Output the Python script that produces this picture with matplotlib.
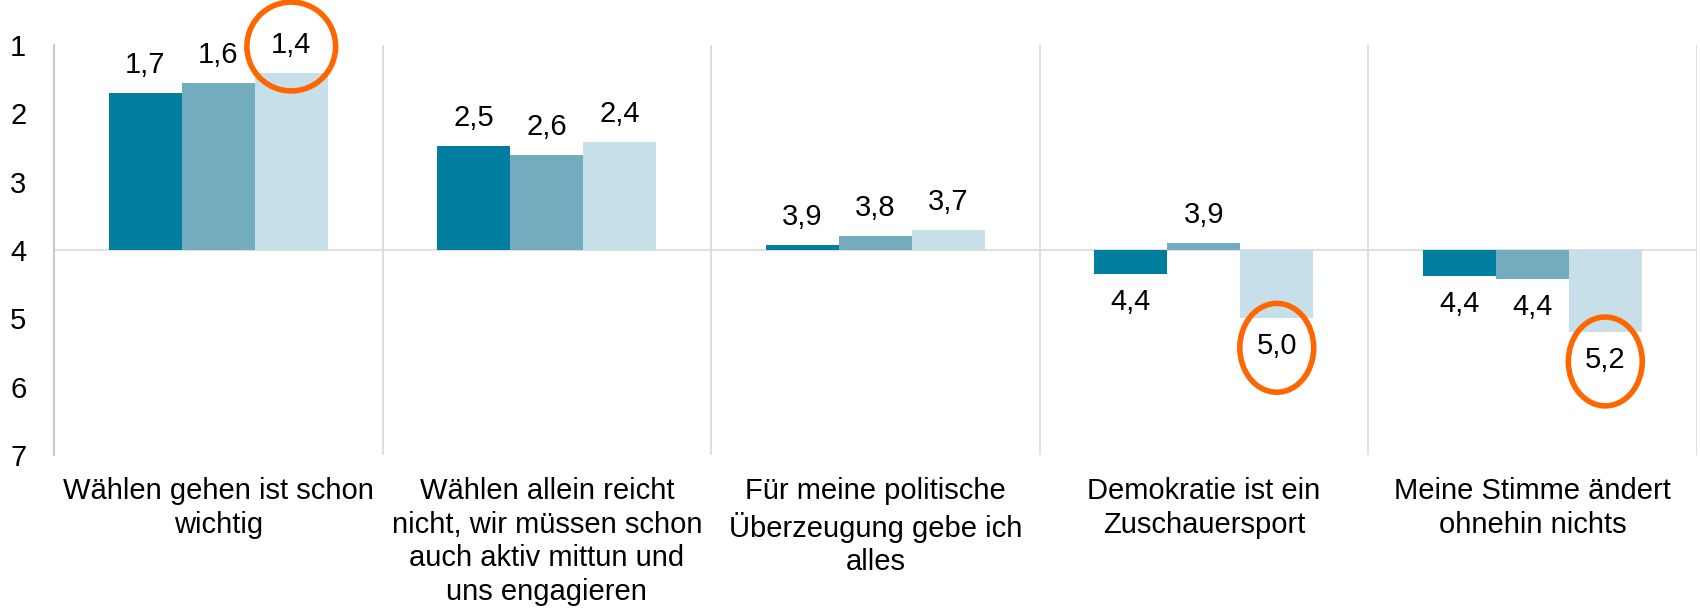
import numpy as np
import matplotlib
matplotlib.use('Agg')
import matplotlib.pyplot as plt
from matplotlib.patches import Ellipse

plt.rcParams['font.family'] = ['Liberation Sans', 'DejaVu Sans']

# --- data ---
kategorien = ['Wählen gehen ist schon\nwichtig',
              'Wählen allein reicht\nnicht, wir müssen schon\nauch aktiv mittun und\nuns engagieren',
              'Für meine politische\nÜberzeugung gebe ich\nalles',
              'Demokratie ist ein\nZuschauersport',
              'Meine Stimme ändert\nohnehin nichts']
serie_1 = [1.7, 2.48, 3.93, 4.35, 4.38]
serie_2 = [1.55, 2.61, 3.8, 3.9, 4.43]
serie_3 = [1.41, 2.42, 3.7, 5.0, 5.2]
labels_1 = ['1,7', '2,5', '3,9', '4,4', '4,4']
labels_2 = ['1,6', '2,6', '3,8', '3,9', '4,4']
labels_3 = ['1,4', '2,4', '3,7', '5,0', '5,2']
y_ticks = [1, 2, 3, 4, 5, 6, 7]
# markierte Werte: (kategorie, serie)
markiert = [(0, 2), (3, 2), (4, 2)]

warna = ['#007EA0', '#74ACBF', '#C6DFE8']
basis = 4

fig = plt.figure(figsize=(17, 6.1), dpi=100)
ax = fig.add_axes([0.0318, 0.254, 0.9662, 0.672])

x = np.arange(len(kategorien))
lebar = 0.222
semua = [serie_1, serie_2, serie_3]
semua_label = [labels_1, labels_2, labels_3]
off = 0.41

for i, (vals, labs) in enumerate(zip(semua, semua_label)):
    xi = x + (i - 1) * lebar
    tinggi = [v - basis for v in vals]
    ax.bar(xi, tinggi, bottom=basis, width=lebar, color=warna[i], zorder=2)
    for xx, v, lab in zip(xi, vals, labs):
        ly = v - off if v < basis else v + off
        ax.text(xx, ly, lab, ha='center', va='center', fontsize=21, zorder=4)

# orange Kreise
for g, s in markiert:
    v = semua[s][g]
    ly = v - off if v < basis else v + off
    xx = x[g] + (s - 1) * lebar
    w = 0.27 if v < basis else 0.225
    ax.add_patch(Ellipse((xx, ly + 0.02), w, 1.3, fill=False,
                         edgecolor='#FF6600', linewidth=4, zorder=5, clip_on=False))

# Achsen
ax.set_xlim(-0.5, len(kategorien) - 0.5)
ax.set_ylim(7, 1)
ax.axhline(basis, color='#D9D9D9', linewidth=1.2, zorder=1)
for b in np.arange(0.5, len(kategorien), 1):
    ax.axvline(b, color='#D9D9D9', linewidth=1.2, zorder=1)

for sp in ['top', 'right', 'bottom']:
    ax.spines[sp].set_visible(False)
ax.spines['left'].set_color('#BFBFBF')
ax.spines['left'].set_linewidth(1.2)

ax.set_yticks(y_ticks)
ax.set_yticklabels([str(t) for t in y_ticks], fontsize=21)
ax.tick_params(axis='y', length=0, pad=20)
ax.set_xticks(x)
ax.set_xticklabels(kategorien, fontsize=21, linespacing=1.25)
ax.tick_params(axis='x', length=0, pad=16)

fig.savefig('out.png', dpi=100)
